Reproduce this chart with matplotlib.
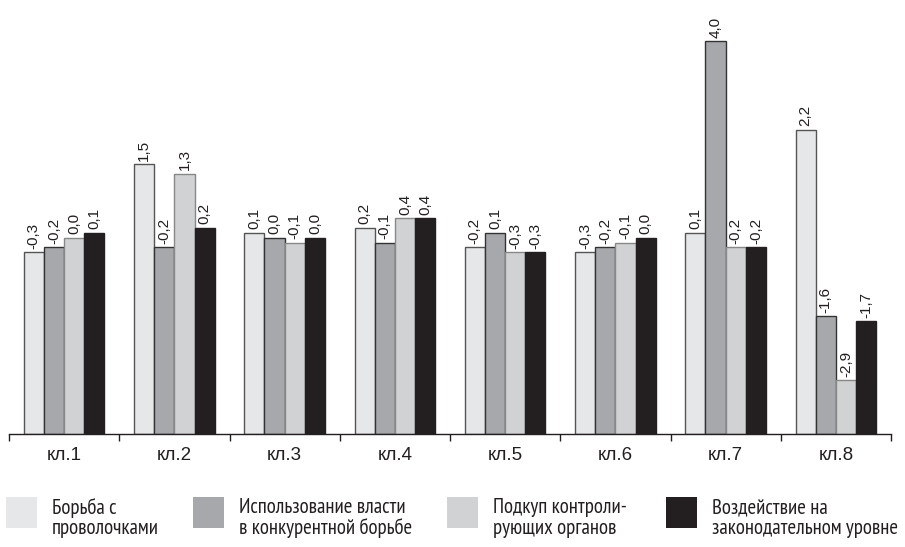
import matplotlib
matplotlib.use("Agg")
import matplotlib.pyplot as plt
from matplotlib.patches import Rectangle
import numpy as np

clusters = ["кл.1", "кл.2", "кл.3", "кл.4", "кл.5", "кл.6", "кл.7", "кл.8"]
series_names = [
    "Борьба с\nпроволочками",
    "Использование власти\nв конкурентной борьбе",
    "Подкуп контроли-\nрующих органов",
    "Воздействие на\nзаконодательном уровне",
]
delay = [-0.3, 1.5, 0.1, 0.2, -0.2, -0.3, 0.1, 2.2]
power = [-0.2, -0.2, 0.0, -0.1, 0.1, -0.2, 4.0, -1.6]
bribery = [0.0, 1.3, -0.1, 0.4, -0.3, -0.1, -0.2, -2.9]
lobbying = [0.1, 0.2, 0.0, 0.4, -0.3, 0.0, -0.2, -1.7]
series = [delay, power, bribery, lobbying]
colors = ["#e6e7e9", "#a7a8ac", "#d1d2d4", "#231f20"]
edges = ["#555555", "#333333", "#888888", "#231f20"]

BASE = -4.0
W, H = 905, 547
narrow = ["PT Sans Narrow", "Roboto Condensed", "Liberation Sans", "DejaVu Sans"]

plt.rcParams["font.family"] = ["Liberation Sans", "DejaVu Sans"]
fig = plt.figure(figsize=(W / 100, H / 100), dpi=100)
ax = fig.add_axes([9 / W, 1 - 434 / H, 882 / W, (434 - 2) / H])

x = np.arange(len(clusters))
bw = 0.183
for j, vals in enumerate(series):
    xs = x + (j - 1.5) * bw
    heights = [v - BASE for v in vals]
    ax.bar(xs, heights, bw, bottom=BASE, color=colors[j], edgecolor=edges[j], linewidth=1)
    for xi, v in zip(xs, vals):
        lab = f"{v:.1f}".replace(".", ",")
        ax.annotate(lab, (xi, v), xytext=(0, 2.5), textcoords="offset points",
                    rotation=90, ha="center", va="bottom", fontsize=11, color="#231f20")

ax.set_xlim(-0.5, len(clusters) - 0.5)
ax.set_ylim(BASE, 4.8)
for s in ["left", "top", "right"]:
    ax.spines[s].set_visible(False)
ax.spines["bottom"].set_color("#231f20")
ax.spines["bottom"].set_linewidth(1)
ax.set_yticks([])
ax.set_xticks(np.arange(-0.5, len(clusters), 1.0))
ax.set_xticklabels([])
ax.tick_params(axis="x", which="major", length=5, width=1, color="#231f20", direction="out")
ax.set_xticks(x, minor=True)
ax.set_xticklabels(clusters, minor=True, fontsize=13.5, color="#231f20")
ax.tick_params(axis="x", which="minor", length=0, pad=9)

# legend drawn by hand: square swatch + two-line caption
leg_x = [6, 193, 447, 666]
for j, name in enumerate(series_names):
    sx = leg_x[j]
    fig.add_artist(Rectangle((sx / W, 1 - 528 / H), 31 / W, 31 / H,
                             transform=fig.transFigure, facecolor=colors[j], edgecolor="none"))
    fig.text((sx + 46) / W, 1 - 498 / H, name, ha="left", va="top", fontsize=15,
             linespacing=1.1, color="#231f20", family=narrow)

fig.savefig("out.png", dpi=100)
